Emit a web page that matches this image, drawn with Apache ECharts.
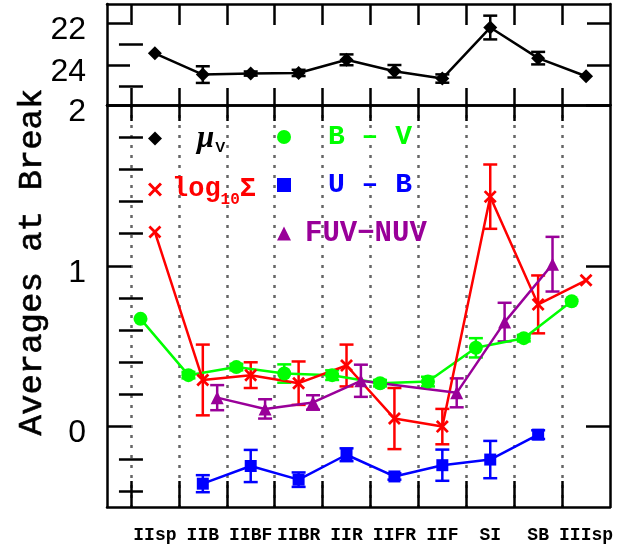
<!DOCTYPE html>
<html>
<head>
<meta charset="utf-8">
<script src="https://cdn.jsdelivr.net/npm/echarts@6/dist/echarts.min.js"></script>
<style>
  html, body { margin: 0; padding: 0; background: #fff; }
  #chart { width: 634px; height: 545px; }
</style>
</head>
<body>
<div id="chart"></div>
<script>
// Break types along the x axis
const categories = ['IIsp', 'IIB', 'IIBF', 'IIBR', 'IIR', 'IIFR', 'IIF', 'SI', 'SB', 'IIIsp'];

// Surface brightness at the break (mag arcsec^-2) and its error
const muV    = [23.44, 24.46, 24.41, 24.38, 23.75, 24.30, 24.65, 22.20, 23.67, 24.54];
const muVErr = [null, 0.40, 0.10, 0.15, 0.26, 0.30, 0.20, 0.57, 0.30, null];

// B - V colour at the break
const bMinusV    = [0.67, 0.32, 0.37, 0.33, 0.32, 0.27, 0.28, 0.49, 0.55, 0.78];
const bMinusVErr = [null, 0.02, 0.02, 0.057, 0.03, 0.02, 0.03, 0.06, 0.02, null];

// log10 of stellar mass surface density at the break
const logSigma    = [1.21, 0.29, 0.32, 0.27, 0.38, 0.05, 0.00, 1.43, 0.76, 0.91];
const logSigmaErr = [null, 0.22, 0.08, 0.135, 0.13, 0.19, 0.11, 0.20, 0.18, null];

// U - B colour at the break
const uMinusB    = [null, -0.355, -0.245, -0.33, -0.175, -0.31, -0.24, -0.205, -0.05, null];
const uMinusBErr = [null, 0.053, 0.10, 0.045, 0.04, 0.02, 0.097, 0.116, 0.027, null];

// FUV - NUV colour at the break
const fuvMinusNuv    = [null, 0.18, 0.11, 0.15, 0.285, null, 0.21, 0.65, 1.01, null];
const fuvMinusNuvErr = [null, 0.078, 0.06, 0.045, 0.10, null, 0.09, 0.12, 0.17, null];

// Tick values
const xTicks = [0, 1, 2, 3, 4, 5, 6, 7, 8, 9];
const muMajorTicks = [22, 24];
const muMinorTicks = [23, 25];
const avgMajorTicks = [0, 1, 2];
const avgMinorTicks = [-0.4, -0.2, 0.2, 0.4, 0.6, 0.8, 1.2, 1.4, 1.6, 1.8];

const COLORS = {
  mu: '#000000',
  bv: '#00ff00',
  sigma: '#ff0000',
  ub: '#0000ff',
  fuv: '#990099'
};
const CROSS = 'path://M1.5,0 L5,3.5 L8.5,0 L10,1.5 L6.5,5 L10,8.5 L8.5,10 L5,6.5 L1.5,10 L0,8.5 L3.5,5 L0,1.5 Z';

function points(values, offset) {
  return values.map((v, i) => (v == null ? null : [i + offset, v])).filter(Boolean);
}
function bars(values, errs, offset) {
  return values
    .map((v, i) => (v == null || errs[i] == null ? null : [i + offset, v - errs[i], v + errs[i]]))
    .filter(Boolean);
}

const LINE_W = 2.5;
const CAP = 7;

function errorSeries(name, values, errs, offset, color, xIdx, yIdx) {
  return {
    type: 'custom',
    name: name + ' err',
    xAxisIndex: xIdx,
    yAxisIndex: yIdx,
    silent: true,
    z: 3,
    encode: { x: 0, y: [1, 2] },
    data: bars(values, errs, offset),
    renderItem: function (params, api) {
      const x = api.value(0);
      const lo = api.coord([x, api.value(1)]);
      const hi = api.coord([x, api.value(2)]);
      const st = { stroke: color, lineWidth: LINE_W };
      return {
        type: 'group',
        children: [
          { type: 'line', shape: { x1: lo[0], y1: lo[1], x2: hi[0], y2: hi[1] }, style: st },
          { type: 'line', shape: { x1: lo[0] - CAP, y1: lo[1], x2: lo[0] + CAP, y2: lo[1] }, style: st },
          { type: 'line', shape: { x1: hi[0] - CAP, y1: hi[1], x2: hi[0] + CAP, y2: hi[1] }, style: st }
        ]
      };
    }
  };
}

function lineSeries(name, values, offset, color, symbol, size, xIdx, yIdx) {
  return {
    type: 'line',
    name: name,
    xAxisIndex: xIdx,
    yAxisIndex: yIdx,
    data: points(values, offset),
    symbol: symbol,
    symbolSize: size,
    showSymbol: true,
    connectNulls: true,
    z: 4,
    lineStyle: { color: color, width: LINE_W },
    itemStyle: { color: color, opacity: 1 },
    emphasis: { disabled: true }
  };
}

const axisLineStyle = { show: true, onZero: false, lineStyle: { color: '#000', width: 2.5 } };

function xAxisDef(gridIndex, position, tickLen, extra) {
  return Object.assign({
    type: 'value',
    gridIndex: gridIndex,
    position: position,
    min: -0.5,
    max: 10,
    axisLine: axisLineStyle,
    axisTick: { show: true, inside: true, length: tickLen, customValues: xTicks, lineStyle: { color: '#000', width: 2.5 } },
    axisLabel: { show: false },
    splitLine: { show: false }
  }, extra || {});
}

function yAxisDef(gridIndex, position, min, max, inverse, ticks, tickLen, labels, showLine) {
  return {
    type: 'value',
    gridIndex: gridIndex,
    position: position,
    offset: 0,
    min: min,
    max: max,
    inverse: inverse,
    axisLine: showLine ? axisLineStyle : { show: false },
    axisTick: { show: true, inside: true, length: tickLen, customValues: ticks, lineStyle: { color: '#000', width: 2.5 } },
    axisLabel: labels ? {
      show: true,
      customValues: labels,
      margin: 21,
      verticalAlign: 'top',
      lineHeight: 14,
      fontFamily: 'Liberation Sans',
      fontSize: 32,
      color: '#000'
    } : { show: false },
    splitLine: { show: false }
  };
}

const legendText = {
  fontFamily: 'Liberation Mono',
  fontWeight: 'bold',
  fontSize: 28,
  lineHeight: 28,
  rich: {
    mu: { fontFamily: 'Liberation Serif', fontStyle: 'italic', fontWeight: 'bold', fontSize: 31, lineHeight: 28, color: COLORS.mu, padding: [0, 0, 0, 30] },
    muSub: { fontFamily: 'Liberation Sans', fontWeight: 'bold', fontSize: 15, lineHeight: 12, verticalAlign: 'top', padding: [16, 0, 0, 1], color: COLORS.mu },
    lg: { fontFamily: 'Liberation Mono', fontWeight: 'bold', fontSize: 27, lineHeight: 28, color: COLORS.sigma, padding: [0, 0, 0, 5] },
    lgSub: { fontFamily: 'Liberation Mono', fontWeight: 'bold', fontSize: 16, lineHeight: 12, verticalAlign: 'top', padding: [16, 0, 0, 0], color: COLORS.sigma },
    lgS: { fontFamily: 'Liberation Mono', fontWeight: 'bold', fontSize: 27, lineHeight: 28, color: COLORS.sigma },
    bv: { fontFamily: 'Liberation Mono', fontWeight: 'bold', fontSize: 28, lineHeight: 28, color: COLORS.bv, padding: [0, 0, 0, 32] },
    ub: { fontFamily: 'Liberation Mono', fontWeight: 'bold', fontSize: 28, lineHeight: 28, color: COLORS.ub, padding: [0, 0, 0, 32] },
    fuv: { fontFamily: 'Liberation Mono', fontWeight: 'bold', fontSize: 29, lineHeight: 28, color: COLORS.fuv, padding: [0, 0, 0, 9] }
  }
};

const legendLabels = {
  'μV': '{mu|μ}{muSub|V}',
  'log10Σ': '{lg|log}{lgSub|10}{lgS|Σ}',
  'B − V': '{bv|B – V}',
  'U − B': '{ub|U – B}',
  'FUV−NUV': '{fuv|FUV−NUV}'
};

const option = {
  animation: false,
  backgroundColor: '#fff',
  grid: [
    { left: 107, top: 4, width: 503, height: 101, containLabel: false },
    { left: 107, top: 105, width: 503, height: 402, containLabel: false }
  ],
  xAxis: [
    xAxisDef(0, 'bottom', 17),
    xAxisDef(0, 'top', 21),
    xAxisDef(1, 'bottom', 26, {
      axisLabel: {
        show: true,
        customValues: xTicks.map(t => t + 0.5),
        formatter: v => categories[Math.round(v - 0.5)],
        margin: 19,
        fontFamily: 'Liberation Mono',
        fontWeight: 'bold',
        fontSize: 18,
        color: '#000'
      },
      splitLine: { show: true, lineStyle: { color: '#666', width: 2.5, type: [3, 7] } }
    }),
    xAxisDef(1, 'top', 16)
  ],
  yAxis: [
    yAxisDef(0, 'left', 21.07, 25.92, true, muMajorTicks, 23, muMajorTicks, true),
    yAxisDef(0, 'left', 21.07, 25.92, true, muMinorTicks, 12, null, false),
    yAxisDef(0, 'right', 21.07, 25.92, true, muMajorTicks, 23, null, true),
    yAxisDef(0, 'right', 21.07, 25.92, true, muMinorTicks, 12, null, false),
    yAxisDef(1, 'left', -0.5, 2, false, avgMajorTicks, 24, avgMajorTicks, true),
    yAxisDef(1, 'left', -0.5, 2, false, avgMinorTicks, 12, null, false),
    yAxisDef(1, 'right', -0.5, 2, false, avgMajorTicks, 24, null, true),
    yAxisDef(1, 'right', -0.5, 2, false, avgMinorTicks, 12, null, false)
  ],
  legend: [
    {
      left: 148, top: 123, orient: 'vertical', padding: 0,
      itemWidth: 14, itemHeight: 14, itemGap: 20, selectedMode: false,
      data: [{ name: 'μV', icon: 'diamond' }, { name: 'log10Σ', icon: CROSS }],
      formatter: n => legendLabels[n],
      textStyle: legendText
    },
    {
      left: 277, top: 123, orient: 'vertical', padding: 0,
      itemWidth: 14, itemHeight: 14, itemGap: 20, selectedMode: false,
      data: [{ name: 'B − V', icon: 'circle' }, { name: 'U − B', icon: 'rect' }, { name: 'FUV−NUV', icon: 'triangle' }],
      formatter: n => legendLabels[n],
      textStyle: legendText
    }
  ],
  graphic: [
    {
      type: 'text',
      x: 32,
      y: 262,
      rotation: Math.PI / 2,
      style: {
        text: 'Averages at Break',
        font: '34px "Liberation Mono"',
        fill: '#000',
        stroke: '#000',
        lineWidth: 0.6,
        textAlign: 'center',
        textVerticalAlign: 'middle'
      }
    }
  ],
  series: [
    errorSeries('μV', muV, muVErr, 0.5, COLORS.mu, 0, 0),
    lineSeries('μV', muV, 0.5, COLORS.mu, 'diamond', 14, 0, 0),

    errorSeries('B − V', bMinusV, bMinusVErr, 0.2, COLORS.bv, 2, 4),
    lineSeries('B − V', bMinusV, 0.2, COLORS.bv, 'circle', 14, 2, 4),

    errorSeries('log10Σ', logSigma, logSigmaErr, 0.5, COLORS.sigma, 2, 4),
    lineSeries('log10Σ', logSigma, 0.5, COLORS.sigma, CROSS, 13, 2, 4),

    errorSeries('U − B', uMinusB, uMinusBErr, 0.5, COLORS.ub, 2, 4),
    lineSeries('U − B', uMinusB, 0.5, COLORS.ub, 'rect', 12, 2, 4),

    errorSeries('FUV−NUV', fuvMinusNuv, fuvMinusNuvErr, 0.8, COLORS.fuv, 2, 4),
    lineSeries('FUV−NUV', fuvMinusNuv, 0.8, COLORS.fuv, 'triangle', 13, 2, 4)
  ]
};

const chart = echarts.init(document.getElementById('chart'), null, { renderer: 'canvas' });
chart.setOption(option);
</script>
</body>
</html>
